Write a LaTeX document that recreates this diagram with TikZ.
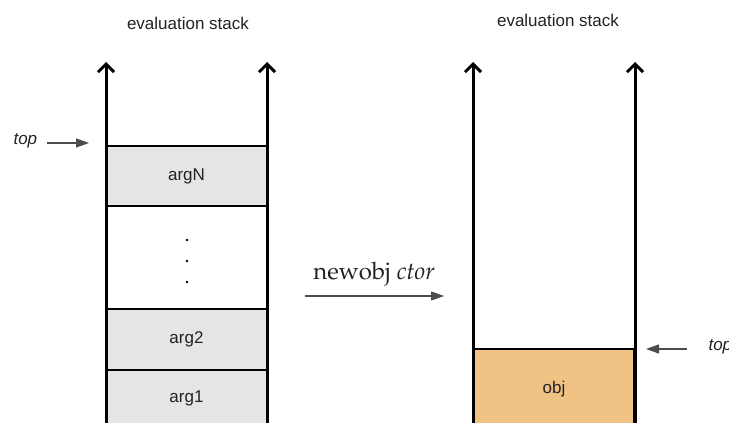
\documentclass[tikz,border=0pt]{standalone}
\usepackage[T1]{fontenc}
\usepackage{fontspec}
\setmainfont{Liberation Sans}
\usetikzlibrary{arrows.meta}
\newcommand{\palfont}{\fontencoding{T1}\fontfamily{ppl}\selectfont}
\definecolor{cellgray}{HTML}{E5E5E5}
\definecolor{objorange}{HTML}{F0C284}
\definecolor{inkgray}{HTML}{222222}
\begin{document}
\begin{tikzpicture}[x=1pt,y=-1pt,
  font=\fontsize{17}{20}\selectfont,
  wall/.style={line width=3pt, -{Straight Barb[length=8pt,width=16pt]}},
  cell/.style={draw, line width=2.5pt, minimum width=161pt, inner sep=0pt, text=inkgray},
  caption/.style={text=inkgray, anchor=base},
  ptr/.style={draw=black!70, line width=1.2pt, -{Triangle[length=13pt,width=9pt]}},
  dot/.style={circle, fill=black, inner sep=0pt, minimum size=2.6pt}]
\useasboundingbox (0,0) rectangle (729,423);
\clip (0,0) rectangle (729,423);

% left stack contents
\node[cell, fill=cellgray, minimum height=60pt] (argN) at (186.5,176) {argN};
\node[cell, fill=white, minimum height=103pt] (gap) at (186.5,257.5) {};
\node[dot] (d1) at (187,240) {};
\node[dot] (d2) at (187,261) {};
\node[dot] (d3) at (187,282) {};
\node[cell, fill=cellgray, minimum height=61pt] (arg2) at (186.5,339.5) {arg2};
\node[cell, fill=cellgray, minimum height=56pt] (arg1) at (186.5,398) {arg1};

% right stack contents
\node[cell, fill=objorange, minimum height=81pt] (obj) at (554,389.5) {obj};

% stack walls
\coordinate (lw1b) at (106,440); \coordinate (lw1t) at (106,62);
\coordinate (lw2b) at (267,440); \coordinate (lw2t) at (267,62);
\coordinate (rw1b) at (473,440); \coordinate (rw1t) at (473,62);
\coordinate (rw2b) at (635,440); \coordinate (rw2t) at (635,62);
\draw[wall] (lw1b) -- (lw1t);
\draw[wall] (lw2b) -- (lw2t);
\draw[wall] (rw1b) -- (rw1t);
\draw[wall] (rw2b) -- (rw2t);

% headings
\node[caption] (headL) at (188,30) {evaluation stack};
\node[caption] (headR) at (558,26) {evaluation stack};

% top-of-stack pointers
\node[caption, anchor=base west] (topL) at (10,144) {\itshape top};
\coordinate (topLs) at (47,143);
\coordinate (topLe) at (89,143);
\draw[ptr] (topLs) -- (topLe);

\node[caption, anchor=base west] (topR) at (705,350) {\itshape top};
\coordinate (topRs) at (687,349);
\coordinate (topRe) at (646,349);
\draw[ptr] (topRs) -- (topRe);

% operation
\node[anchor=base, text=inkgray, font=\palfont\fontsize{24}{28}\selectfont] (op) at (374,279) {newobj \textit{ctor}};
\coordinate (opL) at (305,296);
\coordinate (opR) at (444,296);
\draw[ptr] (opL) -- (opR);
\end{tikzpicture}
\end{document}
